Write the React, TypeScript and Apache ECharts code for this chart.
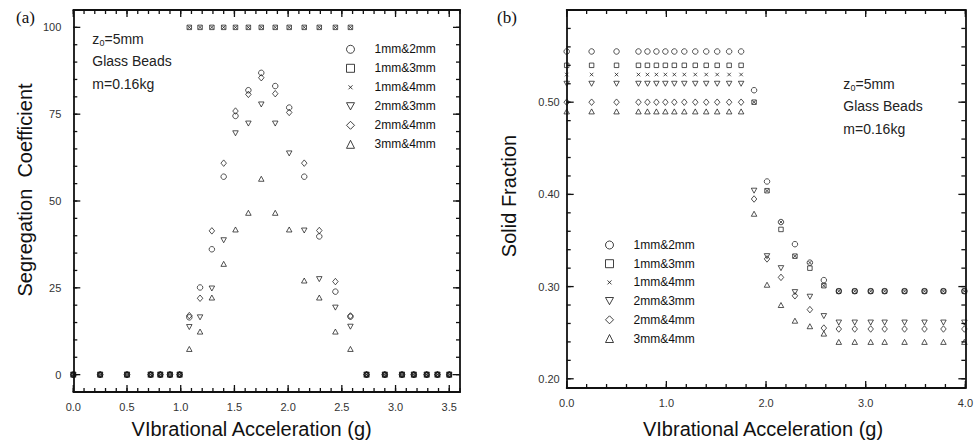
import React, { useEffect, useRef } from "react";
import * as echarts from "echarts";

// ---------- Panel (a) data ----------
const XA = [0, 0.25, 0.5, 0.72, 0.81, 0.9, 0.99, 1.08, 1.18, 1.29, 1.4, 1.51, 1.63, 1.75, 1.88, 2.01, 2.15, 2.29, 2.44, 2.58, 2.73, 2.9, 3.06, 3.17, 3.29, 3.39, 3.5];
const A12 = [0, 0, 0, 0, 0, 0, 0, 16.5, 25.1, 36.1, 57.0, 74.5, 81.9, 86.9, 83.1, 76.9, 57.0, 39.8, 23.9, 16.7, 0, 0, 0, 0, 0, 0, 0];
const A13 = [0, 0, 0, 0, 0, 0, 0, 100, 100, 100, 100, 100, 100, 100, 100, 100, 100, 100, 100, 100, 0, 0, 0, 0, 0, 0, 0];
const A14 = [0, 0, 0, 0, 0, 0, 0, 100, 100, 100, 100, 100, 100, 100, 100, 100, 100, 100, 100, 100, 0, 0, 0, 0, 0, 0, 0];
const A23 = [0, 0, 0, 0, 0, 0, 0, 13.7, 16.5, 24.8, 38.7, 69.5, 72.3, 77.8, 72.3, 63.7, 41.5, 27.5, 19.3, 13.8, 0, 0, 0, 0, 0, 0, 0];
const A24 = [0, 0, 0, 0, 0, 0, 0, 17.0, 22.0, 41.4, 60.9, 75.9, 80.7, 85.5, 80.9, 75.5, 60.9, 41.5, 26.8, 16.9, 0, 0, 0, 0, 0, 0, 0];
const A34 = [0, 0, 0, 0, 0, 0, 0, 7.4, 12.4, 22.2, 31.9, 41.8, 46.6, 56.4, 46.6, 41.8, 27.1, 22.2, 12.4, 7.4, 0, 0, 0, 0, 0, 0, 0];

// ---------- Panel (b) data ----------
const XB = [0, 0.25, 0.5, 0.72, 0.81, 0.9, 0.99, 1.08, 1.18, 1.29, 1.4, 1.51, 1.63, 1.75, 1.88, 2.01, 2.15, 2.29, 2.44, 2.58, 2.73, 2.89, 3.05, 3.19, 3.39, 3.59, 3.78, 3.99];
const B12 = [0.555, 0.555, 0.555, 0.555, 0.555, 0.555, 0.555, 0.555, 0.555, 0.555, 0.555, 0.555, 0.555, 0.555, 0.513, 0.414, 0.370, 0.346, 0.326, 0.307, 0.295, 0.295, 0.295, 0.295, 0.295, 0.295, 0.295, 0.295];
const B13 = [0.540, 0.540, 0.540, 0.540, 0.540, 0.540, 0.540, 0.540, 0.540, 0.540, 0.540, 0.540, 0.540, 0.540, 0.500, 0.404, 0.362, 0.333, 0.320, 0.301, 0.295, 0.295, 0.295, 0.295, 0.295, 0.295, 0.295, 0.295];
const B14 = [0.530, 0.530, 0.530, 0.530, 0.530, 0.530, 0.530, 0.530, 0.530, 0.530, 0.530, 0.530, 0.530, 0.530, 0.500, 0.404, 0.370, 0.333, 0.326, 0.301, 0.295, 0.295, 0.295, 0.295, 0.295, 0.295, 0.295, 0.295];
const B23 = [0.520, 0.520, 0.520, 0.520, 0.520, 0.520, 0.520, 0.520, 0.520, 0.520, 0.520, 0.520, 0.520, 0.520, 0.404, 0.333, 0.320, 0.294, 0.289, 0.268, 0.261, 0.261, 0.261, 0.261, 0.261, 0.261, 0.261, 0.261];
const B24 = [0.500, 0.500, 0.500, 0.500, 0.500, 0.500, 0.500, 0.500, 0.500, 0.500, 0.500, 0.500, 0.500, 0.500, 0.395, 0.330, 0.310, 0.290, 0.275, 0.255, 0.254, 0.254, 0.254, 0.254, 0.254, 0.254, 0.254, 0.254];
const B34 = [0.490, 0.490, 0.490, 0.490, 0.490, 0.490, 0.490, 0.490, 0.490, 0.490, 0.490, 0.490, 0.490, 0.490, 0.379, 0.302, 0.280, 0.263, 0.257, 0.249, 0.240, 0.240, 0.240, 0.240, 0.240, 0.240, 0.240, 0.240];

// ---------- Names / tick labels ----------
const SERIES_NAMES = ["1mm&2mm", "1mm&3mm", "1mm&4mm", "2mm&3mm", "2mm&4mm", "3mm&4mm"];
const XA_LABELS = [0, 0.5, 1, 1.5, 2, 2.5, 3, 3.5];
const YA_LABELS = [0, 25, 50, 75, 100];
const XB_LABELS = [0, 1, 2, 3, 4];
const YB_LABELS = [0.2, 0.3, 0.4, 0.5];
const ANNOT = ["Glass Beads", "m=0.16kg"];

const FONT = '"Liberation Sans", Arial, Helvetica, sans-serif';
const INK = "#111";

function range(a: number, b: number, step: number) {
  const out: number[] = [];
  const n = Math.round((b - a) / step);
  for (let i = 0; i <= n; i++) out.push(+(a + i * step).toFixed(6));
  return out;
}

function inList(v: number, list: number[]) {
  return list.some((l) => Math.abs(l - v) < 1e-6);
}

const SYMBOLS: any[] = [
  { symbol: "circle", size: 5.5 },
  { symbol: "rect", size: 4.5 },
  { symbol: "path://M0,0L10,10M10,0L0,10", size: 3.5 },
  { symbol: "path://M0,0L10,0L5,9Z", size: [5.5, 5] },
  { symbol: "diamond", size: [5.5, 6.5] },
  { symbol: "triangle", size: [5.5, 5] },
];

const lineStyle = { color: INK, width: 1.8 };

function axisPair(dim: "x" | "y", grid: number, min: number, max: number, interval: number, labels: number[], digits: number, name: string, nameGap: number, namePad: number[], labelMargin: number) {
  const pos = dim === "x" ? ["bottom", "top"] : ["left", "right"];
  const base = { type: "value", gridIndex: grid, min, max, interval, splitLine: { show: false }, axisTick: { show: false } };
  return [
    {
      ...base,
      position: pos[0],
      axisLine: { show: true, onZero: false, lineStyle },
      axisLabel: {
        show: true,
        formatter: (v: number) => (inList(v, labels) ? v.toFixed(digits) : ""),
        margin: labelMargin,
        color: "#333",
        fontSize: 11,
        fontFamily: FONT,
      },
      name,
      nameLocation: "middle",
      nameGap,
      nameTextStyle: { fontSize: 20, color: INK, fontFamily: FONT, padding: namePad },
    },
    {
      ...base,
      position: pos[1],
      axisLine: { show: true, onZero: false, lineStyle },
      axisLabel: { show: false },
    },
  ];
}

function buildSeries(xs: number[], ys: number[][], xIdx: number, yIdx: number) {
  return ys.map((arr, k) => ({
    type: "scatter",
    name: SERIES_NAMES[k],
    xAxisIndex: xIdx,
    yAxisIndex: yIdx,
    symbol: SYMBOLS[k].symbol,
    symbolSize: SYMBOLS[k].size,
    clip: false,
    silent: true,
    emphasis: { disabled: true },
    itemStyle: { color: "rgba(0,0,0,0)", borderColor: INK, borderWidth: 0.9 },
    data: xs.map((x, i) => [x, arr[i]]),
  }));
}

function legendAt(left: number, top: number, gap: number) {
  return {
    orient: "vertical",
    left,
    top,
    itemWidth: 8,
    itemHeight: 8,
    itemGap: gap,
    selectedMode: false,
    itemStyle: { borderWidth: 1 },
    textStyle: { fontSize: 12, lineHeight: 12, color: INK, fontFamily: FONT, padding: [0, 0, 0, 15] },
    data: SERIES_NAMES.map((n, k) =>
      k === 2 ? { name: n, icon: "path://M-3,-3M0,0L6,6M6,0L0,6M9,9" } : k === 3 ? { name: n, icon: "path://M0,0L10,0L5,9Z" } : { name: n }
    ),
  };
}

function annotation(x: number, y0: number) {
  const st = { font: `14px ${FONT}`, fill: "#222", align: "left", verticalAlign: "middle" };
  return [
    { type: "text", x, y: y0, style: { ...st, text: "z" } },
    { type: "text", x: x + 7.2, y: y0 + 4, style: { ...st, font: `9px ${FONT}`, text: "0" } },
    { type: "text", x: x + 12.2, y: y0, style: { ...st, text: "=5mm" } },
    { type: "text", x, y: y0 + 22.3, style: { ...st, text: ANNOT[0] } },
    { type: "text", x, y: y0 + 45, style: { ...st, text: ANNOT[1] } },
  ];
}

// Tick marks: positions come from the chart's own scales via convertToPixel
function panelTicks(chart: any, xIdx: number, yIdx: number, xmin: number, xmax: number, ymin: number, ymax: number, xMinor: number[], xMajor: number[], yMinor: number[], yMajor: number[]) {
  const els: any[] = [];
  const finder = { xAxisIndex: xIdx, yAxisIndex: yIdx };
  const seg = (p: number[], dx: number, dy: number) => ({
    type: "line",
    z: 100,
    silent: true,
    shape: { x1: p[0], y1: p[1], x2: p[0] + dx, y2: p[1] + dy },
    style: { stroke: INK, lineWidth: 1.3 },
  });
  const xsets: [number[], number][] = [[xMinor, 4], [xMajor, 7]];
  xsets.forEach(([vals, len]) => {
    vals.forEach((v) => {
      const b = chart.convertToPixel(finder, [v, ymin]);
      const t = chart.convertToPixel(finder, [v, ymax]);
      if (b) els.push(seg(b, 0, -len));
      if (t) els.push(seg(t, 0, len));
    });
  });
  const ysets: [number[], number][] = [[yMinor, 4], [yMajor, 7]];
  ysets.forEach(([vals, len]) => {
    vals.forEach((v) => {
      const l = chart.convertToPixel(finder, [xmin, v]);
      const r = chart.convertToPixel(finder, [xmax, v]);
      if (l) els.push(seg(l, len, 0));
      if (r) els.push(seg(r, -len, 0));
    });
  });
  return els;
}

export default function App() {
  const ref = useRef<HTMLDivElement>(null);
  useEffect(() => {
    if (!ref.current) return;
    const chart = echarts.init(ref.current, undefined, { renderer: "svg" });
    const xAxes = [
      ...axisPair("x", 0, 0, 3.6, 0.5, XA_LABELS, 1, "VIbrational Acceleration (g)", 27, [0, 30, 0, 0], 9),
      ...axisPair("x", 1, 0, 4.0, 1, XB_LABELS, 1, "VIbrational Acceleration (g)", 31, [0, 6, 0, 0], 9),
    ];
    const yAxes = [
      ...axisPair("y", 0, -5, 105, 5, YA_LABELS, 0, "Segregation  Coefficient", 38, [0, 0, 0, 22], 12),
      ...axisPair("y", 1, 0.19, 0.6, 0.01, YB_LABELS, 2, "Solid Fraction", 48, [0, 0, 0, 6], 7),
    ];
    chart.setOption({
      animation: false,
      backgroundColor: "#fff",
      textStyle: { fontFamily: FONT },
      grid: [
        { left: 73.3, top: 10, width: 386.7, height: 385 },
        { left: 566.7, top: 10, width: 408.3, height: 380.7 },
      ],
      xAxis: xAxes,
      yAxis: yAxes,
      legend: [legendAt(341, 38.3, 7), legendAt(600, 234, 6.7)],
      series: [
        ...buildSeries(XA, [A12, A13, A14, A23, A24, A34], 0, 0),
        ...buildSeries(XB, [B12, B13, B14, B23, B24, B34], 2, 2),
      ],
    });
    const ticks = [
      ...panelTicks(chart, 0, 0, 0, 3.6, -5, 105, range(0, 3.6, 0.1), range(0, 3.5, 0.5), range(-5, 105, 5), range(0, 100, 25)),
      ...panelTicks(chart, 2, 2, 0, 4.0, 0.19, 0.6, range(0, 4.0, 0.2), range(0, 4, 1), range(0.2, 0.6, 0.02), range(0.2, 0.6, 0.1)),
    ];
    chart.setOption({
      graphic: [
        { type: "text", x: 16, y: 17, style: { text: "(a)", font: '17px "Liberation Serif", "Times New Roman", serif', fill: INK, align: "left", verticalAlign: "middle" } },
        { type: "text", x: 497, y: 17, style: { text: "(b)", font: '17px "Liberation Serif", "Times New Roman", serif', fill: INK, align: "left", verticalAlign: "middle" } },
        ...annotation(92.3, 39),
        ...annotation(843.3, 84),
        ...ticks,
      ],
    });
    return () => chart.dispose();
  }, []);
  return <div ref={ref} style={{ position: "absolute", left: 0, top: 0, width: 976, height: 444 }} />;
}
